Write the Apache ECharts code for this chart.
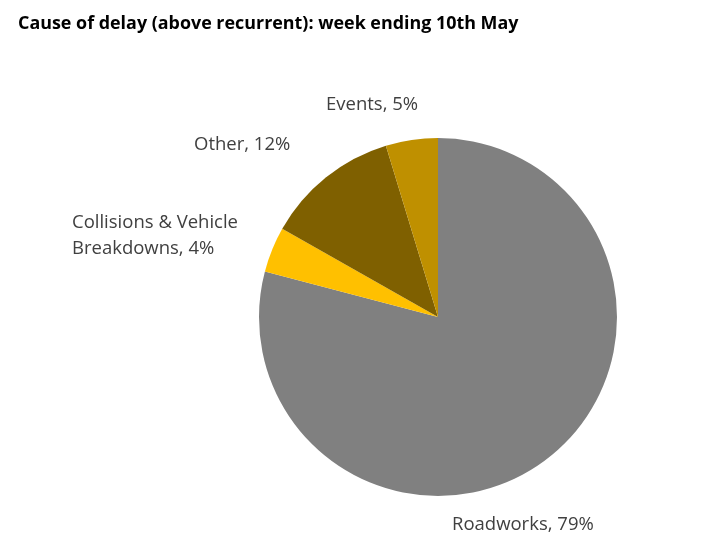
<!DOCTYPE html>
<html>
<head>
<meta charset="utf-8">
<script src="https://cdn.jsdelivr.net/npm/echarts@6/dist/echarts.min.js"></script>
<style>html,body{margin:0;padding:0;background:#fff}#c{width:716px;height:555px}</style>
</head>
<body>
<div id="c"></div>
<script>
const titleText = 'Cause of delay (above recurrent): week ending 10th May';
const categories = ['Roadworks', 'Collisions & Vehicle\nBreakdowns', 'Other', 'Events'];
const values = [79.1, 4.1, 12.1, 4.7];
const colors = ['#808080', '#FFC000', '#7F6000', '#BF9000'];

const labelPos = [
  {x: 452, y: 525},
  {x: 72, y: 236},
  {x: 194, y: 145},
  {x: 326, y: 105}
];

const chart = echarts.init(document.getElementById('c'), null, {renderer: 'canvas'});
chart.setOption({
  animation: false,
  title: {
    text: titleText,
    left: 13, top: 10,
    textStyle: {fontFamily: 'Open Sans', fontWeight: 'bold', fontSize: 17.9, color: '#000'}
  },
  series: [{
    type: 'pie',
    center: [438, 317],
    radius: 179,
    startAngle: 90,
    clockwise: true,
    data: categories.map((c, i) => ({name: c, value: values[i], itemStyle: {color: colors[i]}})),
    itemStyle: {borderWidth: 0},
    label: {
      show: true,
      position: 'outside',
      formatter: p => p.name + ', ' + Math.round(p.percent) + '%',
      fontFamily: 'Open Sans',
      fontSize: 18.5,
      color: '#404040',
      lineHeight: 26,
      align: 'left',
      overflow: 'none',
      width: 300
    },
    labelLine: {show: false},
    labelLayout: function (p) {
      const lp = labelPos[p.dataIndex];
      return {x: lp.x, y: lp.y, align: 'left', verticalAlign: 'middle'};
    }
  }]
});
</script>
</body>
</html>
